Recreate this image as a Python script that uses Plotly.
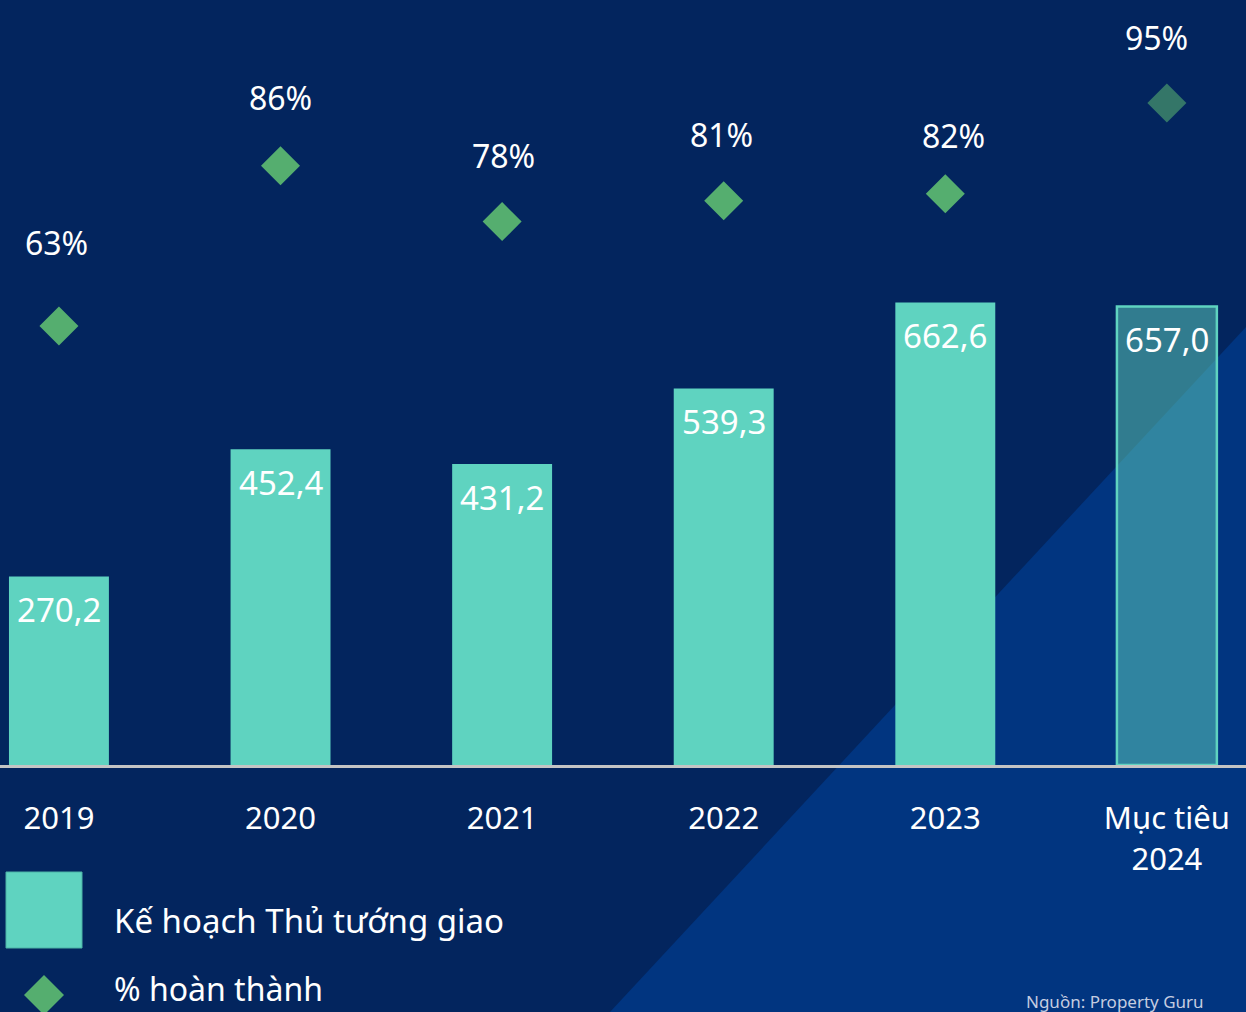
import plotly.graph_objects as go

# ---------------- data ----------------
categories = ["2019", "2020", "2021", "2022", "2023", "Mục tiêu<br>2024"]
plan_values = [270.2, 452.4, 431.2, 539.3, 662.6, 657.0]
plan_labels = ["270,2", "452,4", "431,2", "539,3", "662,6", "657,0"]
completion_pct = [63, 86, 78, 81, 82, 95]
completion_labels = ["63%", "86%", "78%", "81%", "82%", "95%"]
legend_bar = "Kế hoạch Thủ tướng giao"
legend_pct = "% hoàn thành"
source_text = "Nguồn: Property Guru"

# ---------------- style ----------------
W, H = 1246, 1012
PLOT_BOTTOM = 765          # pixel y of axis line
FONT = "Noto Sans"
BG = "#03255e"
TRI = "#013580"
TEAL = "#5fd3c0"
TEAL_T = "rgba(95,211,192,0.5)"
GREEN = "#55ae6f"
GREEN_T = "rgba(85,174,111,0.6)"
pct_label_yshift = [84, 68, 66, 66, 58, 66]
pct_label_xshift = [-2, 0, 1, -2, 8, -10]

def px(x):
    return x / W

def py(y):
    return (PLOT_BOTTOM - y) / PLOT_BOTTOM

xs = list(range(len(categories)))
n = len(categories)
bar_colors = [TEAL] * (n - 1) + [TEAL_T]
line_colors = [TEAL] * n
line_widths = [0] * (n - 1) + [2.5]
dia_colors = [GREEN] * (n - 1) + [GREEN_T]

fig = go.Figure()
fig.add_trace(go.Bar(
    x=xs, y=plan_values, width=0.451,
    marker=dict(color=bar_colors, line=dict(color=line_colors, width=line_widths)),
    hoverinfo="skip", showlegend=False,
))
fig.add_trace(go.Scatter(
    x=xs, y=completion_pct, yaxis="y2", mode="markers",
    marker=dict(symbol="diamond", size=30, color=dia_colors, line=dict(width=0)),
    hoverinfo="skip", showlegend=False,
))

annotations = []
for i, (v, lab) in enumerate(zip(plan_values, plan_labels)):
    annotations.append(dict(x=i, y=v, xref="x", yref="y", text=lab, showarrow=False,
                            yshift=-33, yanchor="middle",
                            font=dict(family=FONT, size=33, color="white")))
for i, (p, lab) in enumerate(zip(completion_pct, completion_labels)):
    annotations.append(dict(x=i, y=p, xref="x", yref="y2", text=lab, showarrow=False,
                            yshift=pct_label_yshift[i], xshift=pct_label_xshift[i],
                            yanchor="middle",
                            font=dict(family=FONT, size=32, color="white")))

# legend (drawn manually to match the large swatches)
annotations.append(dict(x=px(112), y=py(920), xref="paper", yref="paper", text=legend_bar,
                        showarrow=False, xanchor="left", yanchor="middle",
                        font=dict(family=FONT, size=33, color="white")))
annotations.append(dict(x=px(112), y=py(988), xref="paper", yref="paper", text=legend_pct,
                        showarrow=False, xanchor="left", yanchor="middle",
                        font=dict(family=FONT, size=32, color="white")))
annotations.append(dict(x=px(1206), y=py(1001), xref="paper", yref="paper", text=source_text,
                        showarrow=False, xanchor="right", yanchor="middle",
                        font=dict(family=FONT, size=17, color="#c5cde0")))

shapes = [
    # lighter triangle in the bottom right
    dict(type="path", xref="paper", yref="paper", layer="below",
         path=f"M {px(610)} {py(1012)} L {px(1246)} {py(327)} L {px(1246)} {py(1012)} Z",
         fillcolor=TRI, line=dict(width=0)),
    # legend square
    dict(type="rect", xref="paper", yref="paper",
         x0=px(6), x1=px(82), y0=py(948), y1=py(872),
         fillcolor=TEAL, line=dict(color="#4db3a6", width=1)),
    # legend diamond
    dict(type="path", xref="paper", yref="paper",
         path=(f"M {px(44)} {py(975)} L {px(64)} {py(995)} L {px(44)} {py(1015)} "
               f"L {px(24)} {py(995)} Z"),
         fillcolor=GREEN, line=dict(width=0)),
]

fig.update_layout(
    width=W, height=H,
    margin=dict(l=0, r=0, t=0, b=H - PLOT_BOTTOM, pad=0),
    paper_bgcolor=BG, plot_bgcolor="rgba(0,0,0,0)",
    showlegend=False, hovermode=False,
    annotations=annotations, shapes=shapes,
    xaxis=dict(range=[-0.266, 5.357], tickvals=xs, ticktext=categories,
               showgrid=False, zeroline=False, showline=True, linecolor="#c4c4c4",
               linewidth=3, ticks="", ticklabelstandoff=24,
               tickfont=dict(family=FONT, size=31, color="white"), fixedrange=True),
    yaxis=dict(range=[0, 1096], visible=False, showgrid=False, zeroline=False, fixedrange=True),
    yaxis2=dict(range=[0, 109.8], overlaying="y", side="right", visible=False,
                showgrid=False, zeroline=False, fixedrange=True),
)

fig.write_html(
    "out.html",
    config={"displayModeBar": False},
    post_script="document.body.style.margin='0';document.body.style.overflow='hidden';",
)
